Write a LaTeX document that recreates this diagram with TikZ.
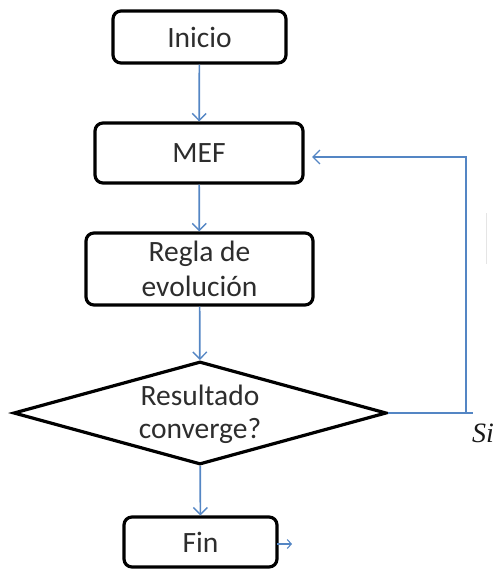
\documentclass[tikz,border=0pt]{standalone}
\usepackage{fontspec}
\setmainfont{Carlito}
\newfontfamily\sifont{Liberation Serif}
\usetikzlibrary{shapes.geometric,arrows.meta}
\definecolor{linkblue}{RGB}{84,134,196}
\definecolor{txtgray}{RGB}{45,45,45}
\begin{document}
\begin{tikzpicture}[x=1pt,y=-1pt,
  procbox/.style={draw=black,line width=3.2pt,rounded corners=8pt,inner sep=0pt,
    align=center,font=\fontsize{29.5}{35}\selectfont,text=txtgray},
  decbox/.style={draw=black,line width=3.2pt,diamond,aspect=3.6,inner sep=0pt,
    minimum width=373pt,minimum height=103pt},
  flow/.style={draw=linkblue,line width=1.7pt,-{Straight Barb[length=7pt,width=14pt,line width=1.4pt]}},
  plain/.style={draw=linkblue,line width=1.7pt},
  sistyle/.style={inner sep=0pt,anchor=base west,text=black!90,font=\sifont\itshape\fontsize{28}{32}\selectfont}]
\useasboundingbox (0,0) rectangle (501,569);
\node[procbox,minimum width=173pt,minimum height=52pt] (inicio) at (199.5,37) {Inicio};
\node[procbox,minimum width=208pt,minimum height=60pt] (mef) at (199,153) {MEF};
\node[procbox,minimum width=227pt,minimum height=72pt] (regla) at (199.5,269) {Regla de\\evolución};
\node[decbox] (dec) at (200,413) {};
\node[align=center,font=\fontsize{29.5}{33}\selectfont,text=txtgray,inner sep=0pt] (dectext) at (200,414) {Resultado\\converge?};
\node[procbox,minimum width=153pt,minimum height=50pt] (fin) at (200.5,542) {Fin};
\node[sistyle] (si) at (472,442) {Si};
\coordinate (c1) at (473,413);
\coordinate (c2) at (466,413);
\coordinate (c3) at (466,157);
\coordinate (c4) at (303,157);
\coordinate (finout) at (292,544);
\coordinate (finstart) at (277,544);
\draw[flow] (inicio) -- (mef);
\draw[flow] (mef) -- (regla);
\draw[flow] (regla) -- (dec);
\draw[flow] (dec) -- (fin);
\draw[plain] (dec.east) -- (c1);
\draw[flow,shorten >=9pt] (c2) -- (c3) -- (c4);
\draw[linkblue,line width=1.3pt,-{Straight Barb[length=4pt,width=9pt,line width=1.1pt]}] (finstart) -- (finout);
\draw[black!10,line width=0.8pt] (486,213) -- (486,264);
\end{tikzpicture}
\end{document}
